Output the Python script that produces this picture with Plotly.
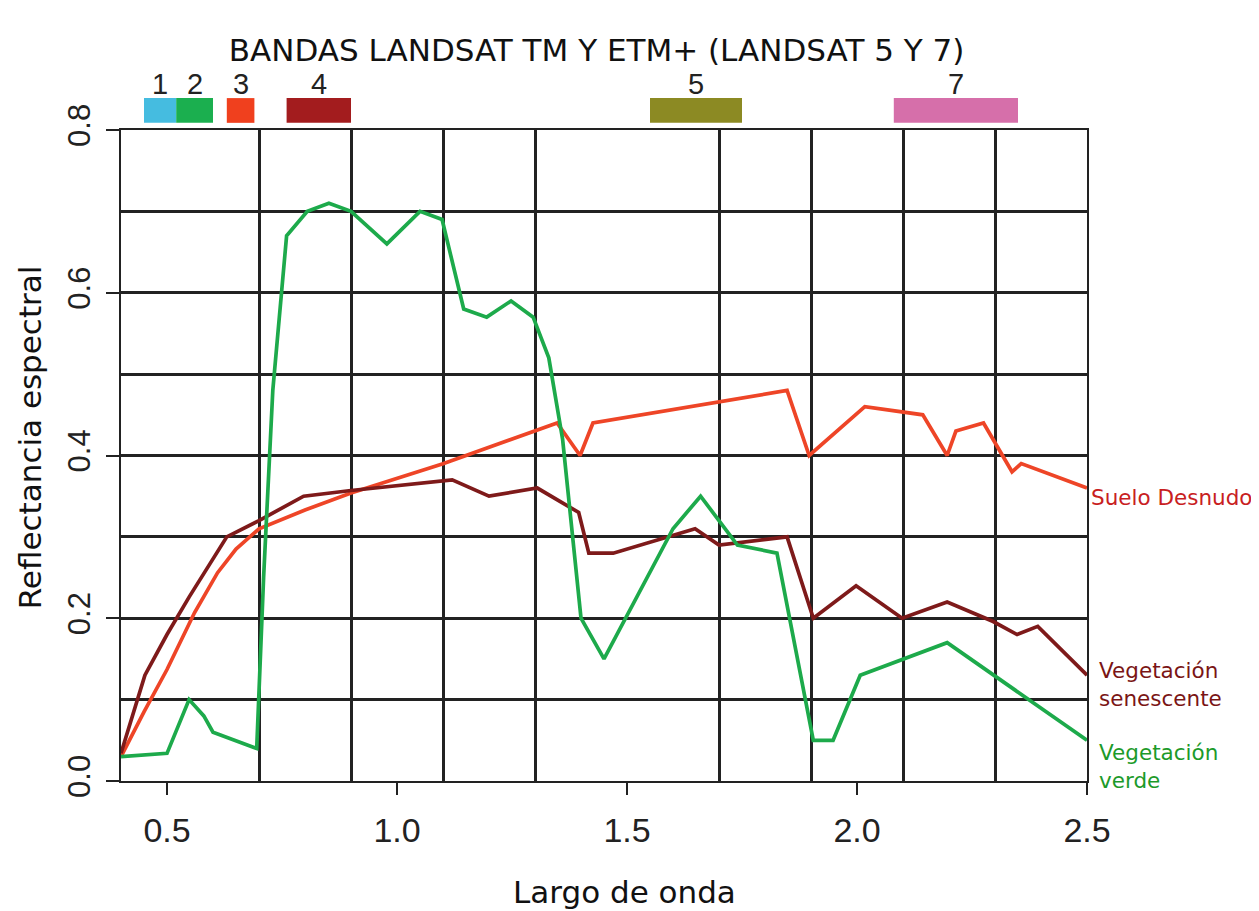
import plotly.graph_objects as go

# Wavelength (µm) and reflectance for each curve
green_x = [0.40, 0.50, 0.548, 0.58, 0.60, 0.695, 0.71, 0.73, 0.76, 0.805, 0.852, 0.90, 0.978,
           1.05, 1.098, 1.145, 1.195, 1.248, 1.296, 1.33, 1.36, 1.40, 1.45, 1.60, 1.66,
           1.74, 1.826, 1.905, 1.948, 2.007, 2.196, 2.50]
green_y = [0.03, 0.034, 0.10, 0.08, 0.06, 0.04, 0.25, 0.48, 0.67, 0.70, 0.71, 0.70, 0.66,
           0.70, 0.69, 0.58, 0.57, 0.59, 0.57, 0.52, 0.42, 0.20, 0.15, 0.31, 0.35,
           0.29, 0.28, 0.05, 0.05, 0.13, 0.17, 0.05]

senes_x = [0.40, 0.452, 0.50, 0.548, 0.63, 0.70, 0.797, 0.90, 1.12, 1.20, 1.305, 1.395,
           1.417, 1.47, 1.648, 1.70, 1.848, 1.905, 1.998, 2.098, 2.196, 2.296, 2.348, 2.393, 2.50]
senes_y = [0.034, 0.13, 0.18, 0.226, 0.30, 0.32, 0.35, 0.357, 0.37, 0.35, 0.36, 0.33,
           0.28, 0.28, 0.31, 0.29, 0.30, 0.20, 0.24, 0.20, 0.22, 0.196, 0.18, 0.19, 0.13]

soil_x = [0.40, 0.45, 0.50, 0.56, 0.61, 0.65, 0.70, 0.80, 0.90, 1.10, 1.348, 1.398, 1.426,
          1.848, 1.896, 2.017, 2.143, 2.196, 2.215, 2.275, 2.337, 2.357, 2.50]
soil_y = [0.03, 0.085, 0.137, 0.207, 0.256, 0.285, 0.31, 0.333, 0.354, 0.39, 0.44, 0.40, 0.44,
          0.48, 0.40, 0.46, 0.45, 0.40, 0.43, 0.44, 0.38, 0.39, 0.36]

# Landsat TM/ETM+ bands
band_names = ["1", "2", "3", "4", "5", "7"]
band_start = [0.45, 0.52, 0.63, 0.76, 1.55, 2.08]
band_end = [0.52, 0.60, 0.69, 0.90, 1.75, 2.35]
band_colors = ["#45BCE0", "#1BAF4F", "#F0401E", "#A31C1E", "#8C8A23", "#D66FAA"]

series_names = ["Suelo Desnudo", "Vegetación<br>senescente", "Vegetación<br>verde"]
series_colors = ["#EE4527", "#7E1A1A", "#1DAA4B"]
label_colors = ["#C8201E", "#7A1515", "#1C9A2A"]

fig = go.Figure()
for xs, ys, col, name in [(soil_x, soil_y, series_colors[0], series_names[0]),
                          (senes_x, senes_y, series_colors[1], series_names[1]),
                          (green_x, green_y, series_colors[2], series_names[2])]:
    fig.add_trace(go.Scatter(x=xs, y=ys, mode="lines", line=dict(color=col, width=3.7),
                             name=name, showlegend=False, cliponaxis=False))

# Band bars and numbers
for nm, s, e, c in zip(band_names, band_start, band_end, band_colors):
    fig.add_shape(type="rect", xref="x", yref="paper", x0=s, x1=e, y0=1.011, y1=1.049,
                  fillcolor=c, line=dict(width=0), layer="above")
    fig.add_annotation(x=(s + e) / 2, xref="x", yref="paper", y=1.043, yanchor="bottom",
                       text=nm, showarrow=False,
                       font=dict(family="Liberation Sans", size=29, color="#222222"))

# End-of-line labels
label_y = [soil_y[-1], senes_y[-1], green_y[-1]]
label_shift = [-9, -9, -26]
label_xshift = [2, 10, 10]
for name, yv, col, sh, xs in zip(series_names, label_y, label_colors, label_shift, label_xshift):
    fig.add_annotation(x=1.0, xref="paper", y=yv, yref="y", xanchor="left",
                       yanchor="middle", xshift=xs, yshift=sh,
                       text=name, showarrow=False, align="left",
                       font=dict(family="DejaVu Sans", size=21.5, color=col))

# Axis titles (placed as in the reference)
fig.add_annotation(x=0.5217, xref="paper", y=-0.1705, yref="paper", xanchor="center",
                   yanchor="middle", text="Largo de onda", showarrow=False,
                   font=dict(family="DejaVu Sans", size=31, color="#111111"))
fig.add_annotation(x=-0.0942, xref="paper", y=0.528, yref="paper", xanchor="center",
                   yanchor="middle", text="Reflectancia espectral", showarrow=False,
                   textangle=-90,
                   font=dict(family="DejaVu Sans", size=31, color="#111111"))

fig.update_layout(
    width=1251, height=903,
    margin=dict(l=113, r=172, t=122, b=130),
    paper_bgcolor="white", plot_bgcolor="white",
    title=dict(text="BANDAS LANDSAT TM Y ETM+ (LANDSAT 5 Y 7)", x=0.4705, xanchor="center",
               y=0.9535, yanchor="middle",
               font=dict(family="DejaVu Sans", size=31, color="#111111")),
    xaxis=dict(range=[0.4, 2.5], tick0=0.5, dtick=0.5, showgrid=False,
               ticks="outside", ticklen=12, tickwidth=2, tickcolor="#222222",
               tickformat=".1f", showline=True, mirror=True, linecolor="#222222", linewidth=2,
               zeroline=False,
               tickfont=dict(family="Liberation Sans", size=34, color="#222222"),
               ticklabelstandoff=6,
               minor=dict(tick0=0.5, dtick=0.2, showgrid=True, gridcolor="#222222",
                          gridwidth=2.5, ticks="")),
    yaxis=dict(range=[0, 0.8], tick0=0, dtick=0.2, showgrid=True, gridcolor="#222222",
               gridwidth=2.5, ticks="outside", ticklen=13, tickwidth=2, tickcolor="#222222",
               tickformat=".1f", tickangle=-90, showline=True, mirror=True,
               linecolor="#222222", linewidth=2, zeroline=False,
               tickfont=dict(family="Liberation Sans", size=31, color="#222222"),
               ticklabelstandoff=4,
               minor=dict(dtick=0.1, showgrid=True, gridcolor="#222222", gridwidth=2.5, ticks="")),
)

fig.write_html("out.html")
